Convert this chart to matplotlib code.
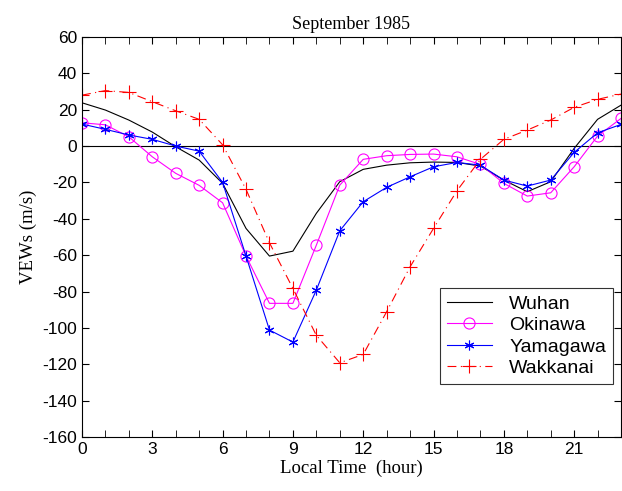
import matplotlib.pyplot as plt

hours = list(range(24))

wuhan = [23.8, 19.8, 14.3, 7.7, -0.4, -7.7, -20.5, -45.3, -60.5, -57.8, -37.0, -19.6,
         -12.8, -10.5, -9.2, -8.8, -9.0, -11.0, -18.7, -25.1, -19.6, -1.3, 14.7, 22.5]
okinawa = [12.8, 11.7, 5.1, -5.9, -15.0, -21.6, -31.2, -60.5, -86.5, -86.5, -54.5, -21.5,
           -7.3, -5.3, -4.6, -4.4, -5.9, -10.1, -20.5, -27.5, -25.7, -11.4, 5.5, 15.2]
yamagawa = [12.1, 9.2, 6.1, 3.7, 0.0, -2.8, -20.0, -60.5, -101.2, -107.8, -79.2, -46.6,
            -30.6, -22.7, -16.9, -11.4, -9.0, -10.5, -18.7, -22.0, -18.7, -3.5, 7.3, 11.9]
wakkanai = [28.0, 30.5, 29.5, 24.4, 19.4, 14.7, 0.7, -23.8, -53.2, -78.3, -104.1, -119.2,
            -114.6, -91.1, -66.4, -45.3, -24.6, -7.3, 3.7, 8.8, 14.3, 21.3, 25.7, 28.6]

sans = ['Liberation Sans', 'DejaVu Sans']
serif = ['Liberation Serif', 'DejaVu Serif']
plt.rcParams['axes.unicode_minus'] = False

fig = plt.figure(figsize=(6.22, 4.91), dpi=100)
ax = fig.add_axes([0.1318, 0.110, 0.8666, 0.8147])

ax.axhline(0, color='black', linewidth=0.8)
ax.plot(hours, wuhan, color='black', linewidth=0.8, label='Wuhan')
ax.plot(hours, okinawa, color='magenta', linewidth=0.8, marker='o', markersize=8,
        markerfacecolor='none', markeredgewidth=0.8, label='Okinawa')
ax.plot(hours, yamagawa, color='blue', linewidth=0.8, marker=(6, 2, 0), markersize=7,
        markeredgewidth=0.8, label='Yamagawa')
ax.plot(hours, wakkanai, color='red', linewidth=0.8, linestyle=(0, (8, 4, 1, 4)),
        marker='+', markersize=10, markeredgewidth=0.8, label='Wakkanai')

ax.set_xlim(0, 23)
ax.set_ylim(-160, 60)
ax.set_xticks(range(0, 24, 3))
ax.set_xticks(range(24), minor=True)
ax.set_yticks(range(-160, 61, 20))
ax.tick_params(which='both', direction='in', top=True, right=True, labelsize=12.5, length=5)
for lab in ax.get_xticklabels() + ax.get_yticklabels():
    lab.set_family(sans)

ax.set_title('September 1985', fontsize=13, family=serif, pad=6)
ax.set_xlabel('Local Time  (hour)', fontsize=13.5, family=serif, labelpad=2)
ax.set_ylabel('VEWs (m/s)', fontsize=13.5, family=serif, labelpad=4)

leg = ax.legend(loc='lower right', bbox_to_anchor=(0.985, 0.1325), prop={'family': sans, 'size': 14},
                frameon=True, fancybox=False, edgecolor='black', handlelength=2.3,
                borderpad=0.35, labelspacing=0.2, handletextpad=0.9, borderaxespad=0)
leg.get_frame().set_linewidth(0.8)

fig.savefig('out.png', dpi=100)
